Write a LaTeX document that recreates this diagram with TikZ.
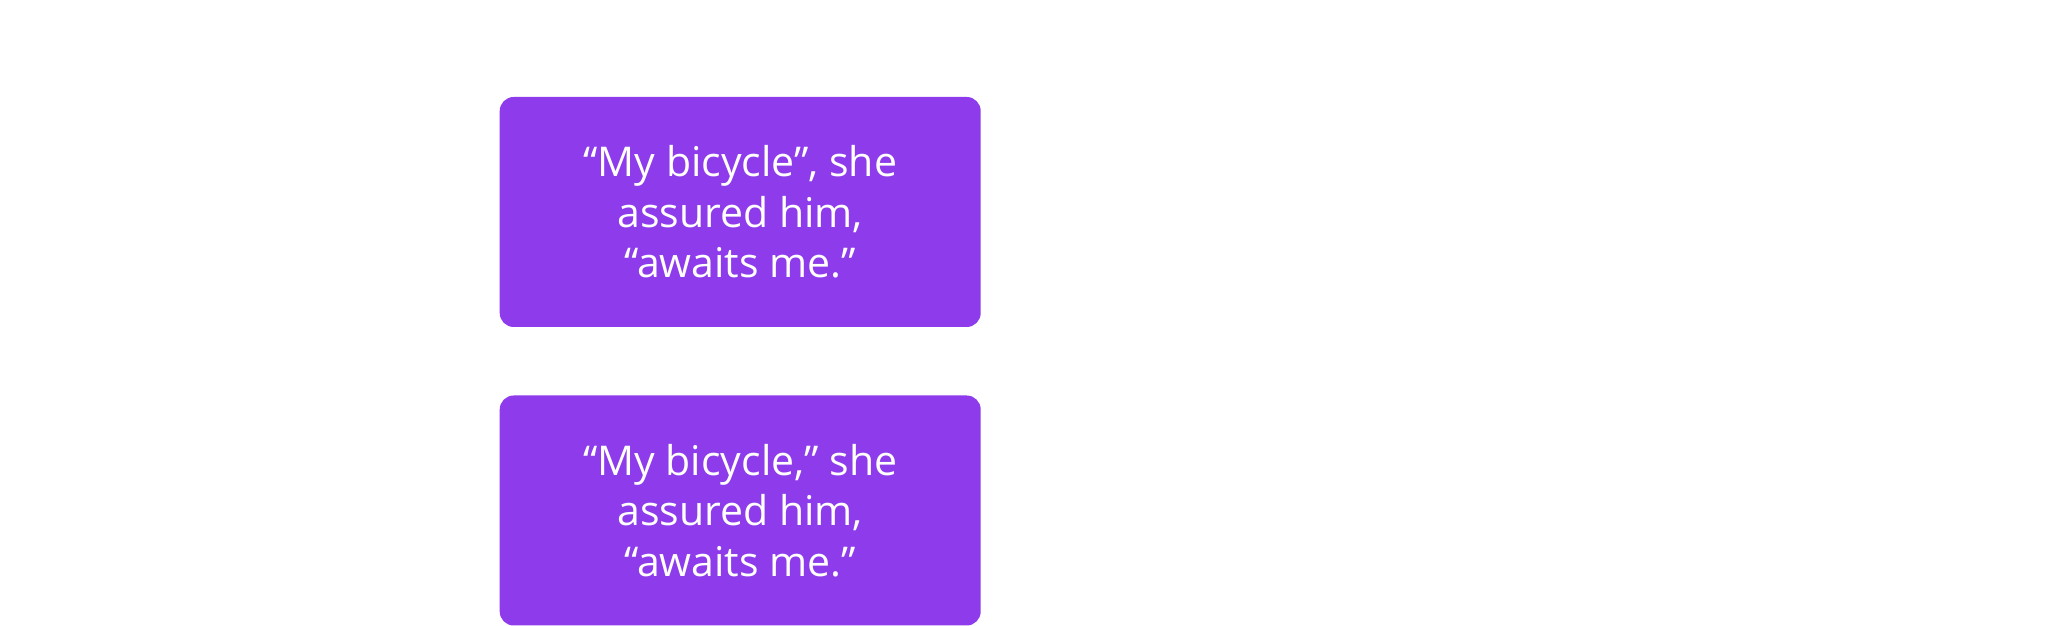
\documentclass[tikz,border=0pt]{standalone}
\usepackage{fontspec}
\setmainfont{Open Sans}
\definecolor{boxpurple}{HTML}{8D3BEB}
\begin{document}
\begin{tikzpicture}[x=1pt,y=1pt,
  quotebox/.style={fill=boxpurple, draw=none, rounded corners=14pt,
    minimum width=481pt, minimum height=230pt, inner sep=0pt,
    text=white, align=center, font=\fontsize{41}{50.5}\selectfont}]
\useasboundingbox (0,0) rectangle (2054,626);
\node[quotebox] (top) at (740.2,414) {“My bicycle”, she\\assured him,\\“awaits me.”};
\node[quotebox] (bottom) at (740.2,115.5) {“My bicycle,” she\\assured him,\\“awaits me.”};
\end{tikzpicture}
\end{document}
